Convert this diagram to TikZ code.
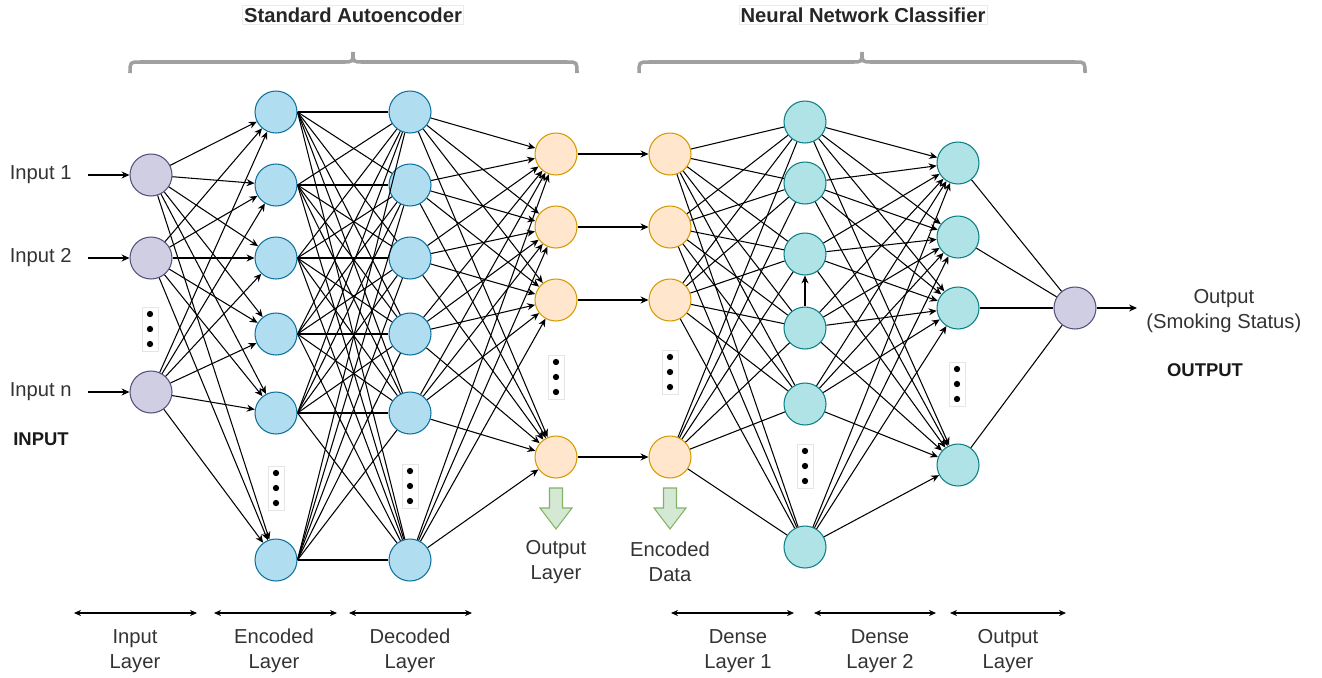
\documentclass[tikz,border=0pt]{standalone}
\usepackage{fontspec}
\setmainfont{Liberation Sans}
\usetikzlibrary{arrows.meta}
\definecolor{inpfill}{HTML}{D0CEE2}
\definecolor{inpline}{HTML}{56517E}
\definecolor{encfill}{HTML}{B1DDF0}
\definecolor{encline}{HTML}{10739E}
\definecolor{orgfill}{HTML}{FFE6CC}
\definecolor{orgline}{HTML}{D79B00}
\definecolor{tealfill}{HTML}{B0E3E6}
\definecolor{tealline}{HTML}{0E8088}
\definecolor{grnfill}{HTML}{D5E8D4}
\definecolor{grnline}{HTML}{82B366}
\definecolor{txtgray}{HTML}{333333}
\definecolor{bracegray}{HTML}{A0A0A0}
\def\dotcol(#1,#2){\draw[black!10,fill=white] (#1-8,#2-22) rectangle (#1+8,#2+22);
	\foreach \dy in {-15,0,15} \fill (#1,#2+\dy) circle[radius=1.8pt];}
\def\greenarr(#1){\draw[grnline,fill=grnfill,line width=0.6pt] (#1-6.5,488) -- (#1+6.5,488) -- (#1+6.5,508) -- (#1+16,508) -- (#1,529) -- (#1-16,508) -- (#1-6.5,508) -- cycle;}
\tikzset{
	neuron/.style={circle,minimum size=0.84cm,inner sep=0pt,line width=0.6pt},
	inpnode/.style={neuron,draw=inpline,fill=inpfill},
	encnode/.style={neuron,draw=encline,fill=encfill},
	orgnode/.style={neuron,draw=orgline,fill=orgfill},
	tealnode/.style={neuron,draw=tealline,fill=tealfill},
	arr/.style={line width=0.6pt,-{Stealth[length=4.5pt,width=4pt]}},
	link/.style={line width=0.6pt},
	dimarr/.style={line width=0.6pt,{Stealth[length=4pt,width=3.5pt]}-{Stealth[length=4pt,width=3.5pt]}},
	lbl/.style={font=\fontsize{11.5}{14.2}\selectfont,text=txtgray,align=center,inner sep=0pt},
	title/.style={font=\fontsize{11.5}{14}\selectfont\bfseries,text=black!85,draw=black!8,inner sep=1pt},
	tag/.style={font=\fontsize{10.5}{13}\selectfont\bfseries,text=black!90}
}

\begin{document}
\begin{tikzpicture}[x=0.02cm,y=-0.02cm]
	%%%%% START %%%%%
	\useasboundingbox (0,0) rectangle (1322,677);

	% titles and braces
	\node[title] (ttlae) at (353,15) {Standard Autoencoder};
	\node[title] (ttlnn) at (863,15) {Neural Network Classifier};
	\draw[bracegray,line width=2pt] (130,73) .. controls (130,62) .. (140,62) -- (343,62) .. controls (353,62) .. (353,52) .. controls (353,62) .. (363,62) -- (567,62) .. controls (577,62) .. (577,73);
	\draw[bracegray,line width=2pt] (639,73) .. controls (639,62) .. (649,62) -- (852,62) .. controls (862,62) .. (862,52) .. controls (862,62) .. (872,62) -- (1075,62) .. controls (1085,62) .. (1085,73);

	% layers
	\foreach \n/\y in {1/175,2/258,3/392} \node[inpnode] (in\n) at (151,\y) {};
	\foreach \n/\y in {1/112,2/185,3/258,4/334,5/413,6/560} {
		\node[encnode] (en\n) at (276,\y) {};
		\node[encnode] (de\n) at (410,\y) {};
	}
	\foreach \n/\y in {1/154,2/227,3/300,4/457} {
		\node[orgnode] (ol\n) at (556,\y) {};
		\node[orgnode] (ed\n) at (670,\y) {};
	}
	\foreach \n/\y in {1/122,2/183,3/254,4/328,5/404,6/547} \node[tealnode] (da\n) at (805,\y) {};
	\foreach \n/\y in {1/163,2/237,3/308,4/465} \node[tealnode] (db\n) at (958,\y) {};
	\node[inpnode] (res) at (1075,308) {};

	\dotcol(150,329)
	\dotcol(276,488)
	\dotcol(410,486)
	\dotcol(556,377)
	\dotcol(670,372)
	\dotcol(805,466)
	\dotcol(957,384)

	% connections
	\foreach \i in {1,2,3} \foreach \j in {1,...,6} \draw[arr] (in\i) -- (en\j);
	\foreach \i in {1,...,6} \foreach \j in {1,...,6} \draw[link] (en\i.east) -- (de\j);
	\foreach \i in {1,...,6} \foreach \j in {1,...,4} \draw[arr] (de\i) -- (ol\j);
	\foreach \i in {1,...,4} \draw[arr] (ol\i) -- (ed\i);
	\foreach \i in {1,...,4} \foreach \j in {1,...,6} \draw[link] (ed\i) -- (da\j);
	\foreach \i in {1,...,6} \foreach \j in {1,...,4} \draw[arr] (da\i) -- (db\j);
	\draw[arr] (da4) -- (da3);
	\foreach \i in {1,...,4} \draw[link] (db\i) -- (res);

	% inputs and output
	\foreach \n/\y/\t in {1/175/Input 1,2/258/Input 2,3/392/Input n} {
		\node[lbl,anchor=east,inner xsep=0.32cm] (inlab\n) at (88,\y) {\t};
		\draw[arr] (inlab\n) -- (in\n);
	}
	\node[tag] (inptag) at (41,439) {INPUT};
	\node[lbl,anchor=west,inner xsep=0.18cm] (restxt) at (1137,311) {Output\\(Smoking Status)};
	\draw[arr] (res) -- (res -| restxt.west);
	\node[tag] (outtag) at (1205,370) {OUTPUT};

	% extracted outputs
	\greenarr(556)
	\greenarr(670)
	\node[lbl] (oltxt) at (556,562) {Output\\Layer};
	\node[lbl] (edtxt) at (670,562) {Encoded\\Data};

	% layer spans
	\foreach \a/\b in {74/197,214/337,349/472,671/794,814/936,950/1066} \draw[dimarr] (\a,613) -- (\b,613);
	\foreach \x/\t in {135/Input\\Layer,274/Encoded\\Layer,410/Decoded\\Layer,738/Dense\\Layer 1,880/Dense\\Layer 2,1008/Output\\Layer}
		\node[lbl] at (\x,651) {\t};
	%%%%% END %%%%%
\end{tikzpicture}
\end{document}
